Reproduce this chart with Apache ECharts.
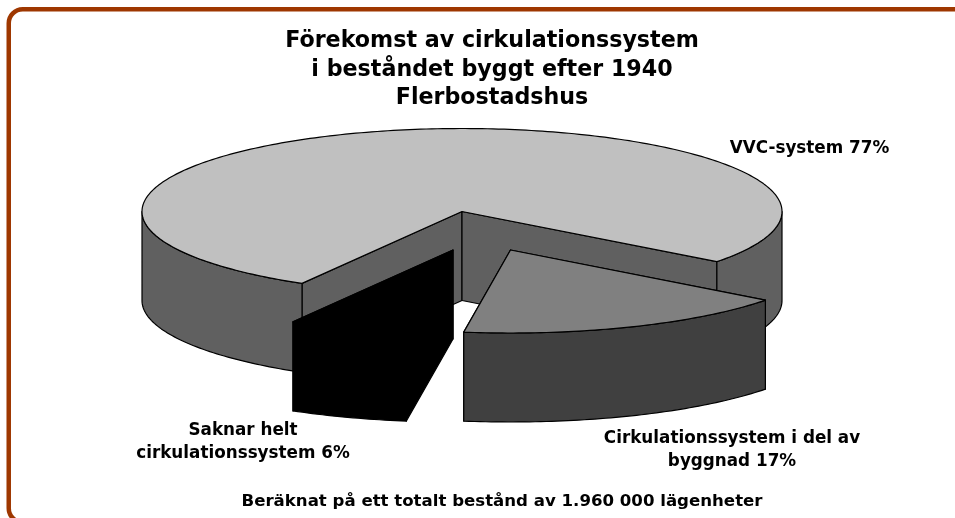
<!DOCTYPE html>
<html>
<head>
<meta charset="utf-8">
<title>Förekomst av cirkulationssystem</title>
<script src="https://cdn.jsdelivr.net/npm/echarts@6/dist/echarts.min.js"></script>
<style>
  html, body { margin: 0; padding: 0; background: #fff; }
  #chart { width: 955px; height: 518px; }
</style>
</head>
<body>
<div id="chart"></div>
<script>
  const titleText = 'Förekomst av cirkulationssystem\ni beståndet byggt efter 1940\nFlerbostadshus'
  const footText = 'Beräknat på ett totalt bestånd av 1.960 000 lägenheter'
  const categories = ['VVC-system', 'Cirkulationssystem i del av\nbyggnad', 'Saknar helt\ncirkulationssystem']
  const shares = [77, 17, 6]

  // pie look
  const topColors = ['#c0c0c0', '#808080', '#000000']
  const sideColors = ['#606060', '#404040', '#000000']
  const cx = 462
  const cy = 211.5
  const rx = 320
  const ry = 83
  const depth = 89
  const startAngle = 120
  const offsetX = [0, 48.5, -9]
  const offsetY = [0, 38.5, 38.5]
  const labelX = [809.5, 732, 243]
  const labelY = [149, 450, 442]

  const total = shares.reduce((a, b) => a + b, 0)

  function rim (ox, oy, deg, drop) {
    const r = deg * Math.PI / 180
    return [ox + rx * Math.cos(r), oy + ry * Math.sin(r) + drop]
  }

  function arcPoints (ox, oy, from, to, drop) {
    const pts = []
    const n = Math.max(2, Math.ceil(to - from))
    for (let i = 0; i <= n; i++) {
      pts.push(rim(ox, oy, from + (to - from) * i / n, drop))
    }
    return pts
  }

  function poly (points, fill) {
    return {
      type: 'polygon',
      shape: { points: points },
      style: { fill: fill, stroke: '#000', lineWidth: 1.2, lineJoin: 'round' }
    }
  }

  function renderSlice (params, api) {
    const i = params.dataIndex
    let before = 0
    for (let k = 0; k < i; k++) before += shares[k]
    const a0 = startAngle + before / total * 360
    const a1 = a0 + api.value(0) / total * 360
    const ox = cx + offsetX[i]
    const oy = cy + offsetY[i]
    const children = []

    // cut faces
    ;[a0, a1].forEach(a => {
      const p = rim(ox, oy, a, 0)
      const q = rim(ox, oy, a, depth)
      children.push(poly([[ox, oy], p, q, [ox, oy + depth]], sideColors[i]))
    })

    // outer wall, only the part facing the viewer
    ;[[0, 180], [360, 540]].forEach(range => {
      const from = Math.max(a0, range[0])
      const to = Math.min(a1, range[1])
      if (from < to) {
        const upper = arcPoints(ox, oy, from, to, 0)
        const lower = arcPoints(ox, oy, from, to, depth).reverse()
        children.push(poly(upper.concat(lower), sideColors[i]))
      }
    })

    // top
    children.push(poly([[ox, oy]].concat(arcPoints(ox, oy, a0, a1, 0)), topColors[i]))
    return { type: 'group', children: children }
  }

  const textFont = 'Verdana, "DejaVu Sans", sans-serif'
  const labels = categories.map((name, i) => ({
    type: 'text',
    x: labelX[i],
    y: labelY[i],
    style: {
      text: name + ' ' + shares[i] + '%',
      fill: '#000',
      font: 'bold 16.8px ' + textFont,
      align: 'center',
      verticalAlign: 'middle',
      lineHeight: 22.5
    }
  }))

  const myChart = echarts.init(document.getElementById('chart'))
  const option = {
    backgroundColor: '#fff',
    animation: false,
    title: {
      text: titleText,
      left: 487,
      top: 22,
      textAlign: 'center',
      textStyle: {
        color: '#000',
        fontFamily: textFont,
        fontWeight: 'bold',
        fontSize: 22.2,
        lineHeight: 28.5
      }
    },
    graphic: [
      {
        type: 'rect',
        shape: { x: 8.75, y: 9.3, width: 1000, height: 513, r: 14 },
        style: { fill: 'none', stroke: '#9e3700', lineWidth: 4.5 }
      },
      {
        type: 'text',
        x: 502,
        y: 502,
        style: {
          text: footText,
          fill: '#000',
          font: 'bold 16.6px ' + textFont,
          align: 'center',
          verticalAlign: 'middle'
        }
      }
    ].concat(labels),
    series: [
      {
        type: 'custom',
        coordinateSystem: 'none',
        silent: true,
        data: shares.map(v => [v]),
        renderItem: renderSlice
      }
    ]
  }
  myChart.setOption(option)
</script>
</body>
</html>
